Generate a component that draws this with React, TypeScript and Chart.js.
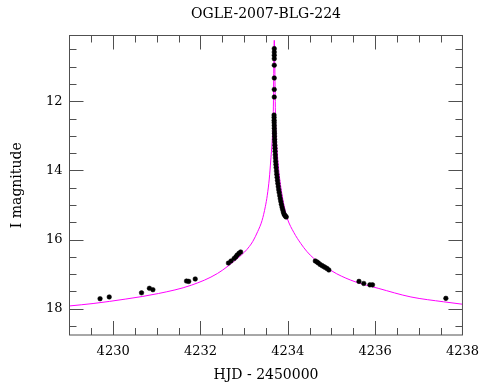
import React, { useEffect, useRef } from "react";
import { Chart, registerables } from "chart.js";

Chart.register(...registerables);

const chartTitle = "OGLE-2007-BLG-224";
const xTitle = "HJD - 2450000";
const yTitle = "I magnitude";

const xMin = 4229;
const xMax = 4238;
const yMin = 10.1;
const yMax = 18.76;

const xMajorTicks = [4230, 4232, 4234, 4236, 4238];
const xMinorTicks = [4229.5, 4230.5, 4231, 4231.5, 4232.5, 4233, 4233.5, 4234.5, 4235, 4235.5, 4236.5, 4237, 4237.5];
const yMajorTicks = [12, 14, 16, 18];
const yMinorTicks = [10.5, 11, 11.5, 12.5, 13, 13.5, 14.5, 15, 15.5, 16.5, 17, 17.5, 18.5];

// Model light curve
const modelHJD = [
  4229.0, 4229.54, 4230.29, 4231.04, 4231.79, 4232.39, 4232.87, 4233.01, 4233.12, 4233.20,
  4233.31, 4233.41, 4233.485, 4233.53, 4233.575, 4233.61, 4233.649, 4233.665, 4233.69,
  4233.72, 4233.745, 4233.80, 4233.88, 4233.95, 4233.99, 4234.14, 4234.295, 4234.44,
  4234.59, 4234.85, 4235.12, 4235.54, 4236.07, 4236.82, 4237.57, 4238.0,
];
const modelMag = [
  17.92, 17.85, 17.72, 17.56, 17.32, 16.98, 16.52, 16.36, 16.20, 16.05,
  15.77, 15.45, 15.05, 14.72, 14.25, 13.70, 13.00, 12.54, 10.24,
  12.60, 13.27, 14.09, 14.80, 15.22, 15.40, 15.80, 16.11, 16.35,
  16.54, 16.78, 16.99, 17.22, 17.41, 17.66, 17.80, 17.87,
];

// Observations
const obsHJD = [
  4229.70, 4229.91, 4230.65, 4230.83, 4230.91, 4231.68, 4231.73, 4231.88,
  4232.64, 4232.70, 4232.77, 4232.81, 4232.84, 4232.88, 4232.92,
  4233.690, 4233.690, 4233.690, 4233.690, 4233.690, 4233.690, 4233.690, 4233.690,
  4233.685, 4233.686, 4233.687, 4233.688, 4233.690, 4233.691, 4233.693, 4233.694,
  4233.696, 4233.698, 4233.700, 4233.703, 4233.706, 4233.709, 4233.713, 4233.717,
  4233.722, 4233.727, 4233.733, 4233.740, 4233.747, 4233.755, 4233.763, 4233.772,
  4233.782, 4233.792, 4233.803, 4233.815, 4233.827, 4233.840, 4233.853, 4233.867,
  4233.882, 4233.897, 4233.912, 4233.930, 4233.950, 4233.965,
  4234.63, 4234.67, 4234.70, 4234.74, 4234.78, 4234.82, 4234.86, 4234.90, 4234.94,
  4235.63, 4235.74, 4235.88, 4235.94, 4237.62,
];
const obsMag = [
  17.71, 17.66, 17.54, 17.41, 17.45, 17.20, 17.21, 17.14,
  16.68, 16.62, 16.55, 16.50, 16.45, 16.40, 16.36,
  10.48, 10.58, 10.67, 10.77, 10.96, 11.33, 11.66, 11.88,
  12.40, 12.47, 12.55, 12.62, 12.70, 12.78, 12.86, 12.93,
  13.01, 13.10, 13.18, 13.27, 13.36, 13.45, 13.55, 13.64,
  13.74, 13.83, 13.92, 14.02, 14.11, 14.20, 14.29, 14.38,
  14.47, 14.56, 14.64, 14.73, 14.82, 14.90, 14.98, 15.06,
  15.13, 15.20, 15.26, 15.30, 15.33, 15.35,
  16.62, 16.65, 16.68, 16.72, 16.75, 16.78, 16.81, 16.84, 16.88,
  17.21, 17.27, 17.31, 17.31, 17.70,
];

const FONT = "'DejaVu Serif', 'Liberation Serif', serif";
const FRAME = "#505050";

const frameTicksPlugin = {
  id: "frameTicks",
  afterDatasetsDraw(chart: any) {
    const { ctx, chartArea, scales } = chart;
    const { left, right, top, bottom } = chartArea;
    const xs = scales.x;
    const ys = scales.y;
    ctx.save();
    ctx.strokeStyle = FRAME;
    ctx.lineWidth = 1;
    ctx.strokeRect(left, top, right - left, bottom - top);
    const major = 14;
    const minor = 7;
    ctx.beginPath();
    const xt = (v: number, len: number) => {
      const p = Math.round(xs.getPixelForValue(v)) + 0.5;
      ctx.moveTo(p, bottom);
      ctx.lineTo(p, bottom - len);
      ctx.moveTo(p, top);
      ctx.lineTo(p, top + len);
    };
    const yt = (v: number, len: number) => {
      const p = Math.round(ys.getPixelForValue(v)) + 0.5;
      ctx.moveTo(left, p);
      ctx.lineTo(left + len, p);
      ctx.moveTo(right, p);
      ctx.lineTo(right - len, p);
    };
    xMajorTicks.forEach((v) => xt(v, major));
    xMinorTicks.forEach((v) => xt(v, minor));
    yMajorTicks.forEach((v) => yt(v, major));
    yMinorTicks.forEach((v) => yt(v, minor));
    ctx.stroke();
    ctx.restore();
  },
};

export default function App() {
  const ref = useRef<HTMLCanvasElement | null>(null);
  useEffect(() => {
    if (!ref.current) return;
    const model = modelHJD.map((x, i) => ({ x, y: modelMag[i] }));
    const obs = obsHJD.map((x, i) => ({ x, y: obsMag[i] }));
    const chart = new Chart(ref.current, {
      type: "scatter",
      data: {
        datasets: [
          {
            label: "data",
            data: obs,
            pointRadius: 2.3,
            pointBackgroundColor: "#000",
            pointBorderColor: "#000",
            pointBorderWidth: 0.5,
            showLine: false,
          },
          {
            label: "model",
            data: model,
            showLine: true,
            borderColor: "#ff00ff",
            borderWidth: 1,
            pointRadius: 0,
            cubicInterpolationMode: "monotone",
          },
        ],
      },
      plugins: [frameTicksPlugin],
      options: {
        responsive: false,
        animation: false,
        events: [],
        layout: { padding: { left: 0, right: 18.7, top: 0, bottom: 0 } },
        plugins: {
          legend: { display: false },
          tooltip: { enabled: false },
          title: { display: false },
        },
        scales: {
          x: {
            type: "linear",
            position: "bottom",
            min: xMin,
            max: xMax,
            grid: { display: false, drawTicks: false, tickLength: 0 },
            border: { display: false },
            afterBuildTicks: (s: any) => {
              s.ticks = xMajorTicks.map((v) => ({ value: v }));
            },
            afterFit: (s: any) => {
              s.height = 54;
            },
            ticks: {
              color: "#000",
              padding: 9,
              maxRotation: 0,
              autoSkip: false,
              font: { family: FONT, size: 13 },
              callback: (v: any) => String(v),
            },
            title: {
              display: true,
              text: xTitle,
              color: "#000",
              font: { family: FONT, size: 14 },
              padding: { top: 0, bottom: 5.6 },
            },
          },
          x2: {
            type: "linear",
            position: "top",
            min: xMin,
            max: xMax,
            grid: { display: false, drawTicks: false, tickLength: 0 },
            border: { display: false },
            ticks: { display: false },
            afterFit: (s: any) => {
              s.height = 35.5;
            },
            title: {
              display: true,
              text: chartTitle,
              color: "#000",
              font: { family: FONT, size: 14 },
              padding: { top: 6, bottom: 0 },
            },
          },
          y: {
            type: "linear",
            reverse: true,
            min: yMin,
            max: yMax,
            grid: { display: false, drawTicks: false, tickLength: 0 },
            border: { display: false },
            afterBuildTicks: (s: any) => {
              s.ticks = yMajorTicks.map((v) => ({ value: v }));
            },
            afterFit: (s: any) => {
              s.width = 69.5;
            },
            ticks: {
              color: "#000",
              padding: 7,
              autoSkip: false,
              font: { family: FONT, size: 13 },
              callback: (v: any) => String(v),
            },
            title: {
              display: true,
              text: yTitle,
              color: "#000",
              font: { family: FONT, size: 14 },
              padding: { top: 8.6, bottom: 0 },
            },
          },
        },
      },
    } as any);
    return () => chart.destroy();
  }, []);
  return (
    <div style={{ position: "absolute", left: 0, top: 0, width: 488, height: 389, background: "#fff" }}>
      <canvas ref={ref} width={488} height={389} style={{ display: "block" }} />
    </div>
  );
}
